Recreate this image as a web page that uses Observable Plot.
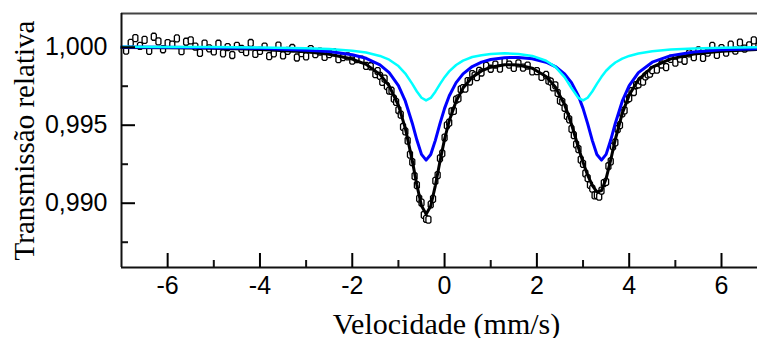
<!DOCTYPE html>
<html><head><meta charset="utf-8">
<script src="https://cdn.jsdelivr.net/npm/d3@7"></script>
<script src="https://cdn.jsdelivr.net/npm/@observablehq/plot@0.6"></script>
<style>html,body{margin:0;padding:0;background:#fff;overflow:hidden}</style>
</head><body><div id="chart"></div>
<script>
// Fitted curves (velocity mm/s, relative transmission)
const fitVel = [-7,-6,-5,-4,-3,-2.5,-2,-1.7,-1.4,-1.2,-1.0,-0.85,-0.7,-0.6,-0.5,-0.4,-0.3,-0.2,-0.1,0,0.1,0.25,0.4,0.6,0.8,1.0,1.3,1.6,1.9,2.2,2.4,2.6,2.75,2.9,3.0,3.1,3.2,3.3,3.4,3.5,3.6,3.7,3.85,4.0,4.2,4.5,4.9,5.4,6.0,6.8];
const fitSite2 = [1.00003,1.00002,1.00001,0.99998,0.99993,0.99988,0.99977,0.99966,0.99944,0.99920,0.99879,0.99831,0.99765,0.99716,0.99676,0.99659,0.99675,0.99715,0.99763,0.99808,0.99845,0.99886,0.99914,0.99937,0.99949,0.99957,0.99961,0.99957,0.99944,0.99913,0.99874,0.99808,0.99738,0.99675,0.99659,0.99676,0.99716,0.99765,0.99810,0.99849,0.99878,0.99902,0.99927,0.99944,0.99960,0.99974,0.99985,0.99991,0.99996,0.99999];
const fitSite1 = [1.00001,0.99999,0.99997,0.99993,0.99981,0.99972,0.99952,0.99929,0.99887,0.99837,0.99754,0.99654,0.99513,0.99405,0.99313,0.99276,0.99312,0.99403,0.99510,0.99608,0.99687,0.99773,0.99829,0.99876,0.99904,0.99921,0.99933,0.99934,0.99926,0.99904,0.99876,0.99829,0.99773,0.99687,0.99608,0.99510,0.99403,0.99312,0.99276,0.99313,0.99405,0.99513,0.99654,0.99754,0.99837,0.99904,0.99946,0.99969,0.99983,0.99991];
const fitTotal = [0.99998,0.99996,0.99993,0.99986,0.99971,0.99955,0.99924,0.99890,0.99826,0.99752,0.99627,0.99480,0.99273,0.99116,0.98984,0.98930,0.98982,0.99113,0.99268,0.99411,0.99527,0.99654,0.99738,0.99808,0.99848,0.99872,0.99888,0.99886,0.99865,0.99812,0.99745,0.99632,0.99506,0.99357,0.99262,0.99180,0.99114,0.99072,0.99081,0.99157,0.99278,0.99410,0.99576,0.99693,0.99792,0.99873,0.99925,0.99956,0.99974,0.99985];

// Measured spectrum
const vel = [-6.9,-6.8,-6.7,-6.6,-6.5,-6.4,-6.3,-6.2,-6.1,-6.0,-5.9,-5.8,-5.7,-5.6,-5.5,-5.4,-5.3,-5.2,-5.1,-5.0,-4.9,-4.8,-4.7,-4.6,-4.5,-4.4,-4.3,-4.2,-4.1,-4.0,-3.9,-3.8,-3.7,-3.6,-3.5,-3.4,-3.3,-3.2,-3.1,-3.0,-2.9,-2.8,-2.7,-2.6,-2.5,-2.4,-2.3,-2.2,-2.1,-2.0,-1.9,-1.8,-1.7,-1.6,
-1.5,-1.45,-1.4,-1.35,-1.3,-1.25,-1.2,-1.15,-1.1,-1.05,-1.0,-0.95,-0.9,-0.85,-0.8,-0.75,-0.7,-0.65,-0.6,-0.55,-0.5,-0.45,-0.4,-0.35,-0.3,-0.25,-0.2,-0.15,-0.1,-0.05,0,0.05,0.1,0.15,0.2,0.25,0.3,0.35,0.4,0.45,0.5,0.55,0.6,0.65,0.7,0.75,0.8,
0.9,1.0,1.1,1.2,1.3,1.4,1.5,1.6,1.7,1.8,1.9,2.0,2.1,
2.2,2.25,2.3,2.35,2.4,2.45,2.5,2.55,2.6,2.65,2.7,2.75,2.8,2.85,2.9,2.95,3.0,3.05,3.1,3.15,3.2,3.25,3.3,3.35,3.4,3.45,3.5,3.55,3.6,3.65,3.7,3.75,3.8,3.85,3.9,3.95,4.0,4.05,4.1,4.15,4.2,4.25,4.3,4.35,4.4,4.45,4.5,
4.6,4.7,4.8,4.9,5.0,5.1,5.2,5.3,5.4,5.5,5.6,5.7,5.8,5.9,6.0,6.1,6.2,6.3,6.4,6.5,6.6,6.7,6.8];
const trans = [0.99978,1.00028,1.00058,1.00008,1.00047,0.99977,1.00067,1.00037,0.99987,1.00026,1.00016,1.00056,0.99975,1.00035,1.00044,1.00004,0.99964,1.00023,0.99993,0.99973,1.00022,0.99961,1.00001,0.99950,1.00009,0.99989,0.99968,1.00027,0.99957,0.99976,1.00004,0.99943,0.99961,1.00010,0.99948,0.99977,0.99995,0.99934,0.99962,0.99941,0.99988,0.99955,0.99971,0.99938,0.99955,0.99969,0.99923,0.99937,0.99941,0.99914,0.99923,0.99921,0.99880,0.99878,
0.99827,0.99847,0.99816,0.99778,0.99799,0.99750,0.99722,0.99721,0.99670,0.99649,0.99597,0.99568,0.99489,0.99460,0.99401,0.99312,0.99263,0.99174,0.99116,0.99030,0.99004,0.98925,0.98900,0.98895,0.98992,0.99028,0.99143,0.99180,0.99288,0.99319,0.99421,0.99499,0.99517,0.99589,0.99592,0.99664,0.99672,0.99730,0.99738,0.99735,0.99783,0.99780,0.99828,0.99818,0.99808,0.99848,0.99838,
0.99880,0.99862,0.99888,0.99863,0.99908,0.99888,0.99867,0.99896,0.99869,0.99882,0.99845,0.99847,0.99810,
0.99822,0.99786,0.99779,0.99742,0.99755,0.99707,0.99658,0.99650,0.99612,0.99560,0.99538,0.99476,0.99436,0.99377,0.99347,0.99279,0.99252,0.99191,0.99161,0.99117,0.99094,0.99050,0.99052,0.99042,0.99081,0.99129,0.99137,0.99238,0.99268,0.99364,0.99390,0.99475,0.99500,0.99576,0.99595,0.99664,0.99673,0.99718,0.99713,0.99757,0.99762,0.99786,0.99779,0.99813,0.99826,0.99830,0.99853,
0.99856,0.99889,0.99872,0.99925,0.99901,0.99927,0.99913,0.99960,0.99936,0.99979,0.99932,0.99965,1.00008,0.99951,0.99994,0.99965,1.00016,0.99978,1.00029,0.99991,1.00012,1.00044,1.00005];

const xMajor = [-6,-4,-2,0,2,4,6];
const xMinor = [-5,-3,-1,1,3,5];
const yMajor = [0.990,0.995,1.000];
const yMinor = [0.9875,0.9925,0.9975];
const xDomain = [-7, 6.78];
const yDomain = [0.98588, 1.00216];
const xTitle = "Velocidade (mm/s)";
const yTitle = "Transmissão relativa";

const fit = fitVel.map((v,i)=>({v, total: fitTotal[i], s1: fitSite1[i], s2: fitSite2[i]}));
const pts = vel.map((v,i)=>({v, t: trans[i]})).filter(d => d.t !== undefined);

const pill = {draw(ctx){ ctx.moveTo(-1.3,-3.5); ctx.lineTo(1.3,-3.5); ctx.lineTo(2.5,-2.3); ctx.lineTo(2.5,2.3); ctx.lineTo(1.3,3.5); ctx.lineTo(-1.3,3.5); ctx.lineTo(-2.5,2.3); ctx.lineTo(-2.5,-2.3); ctx.closePath(); }};

const sans = "'Liberation Sans', Arial, sans-serif";
const serif = "'Liberation Serif', 'Times New Roman', serif";

const chart = Plot.plot({
  width: 757, height: 338,
  marginLeft: 121, marginRight: 0, marginTop: 13, marginBottom: 71,
  style: {fontFamily: sans, fontSize: "25px", color: "#000", background: "#fff"},
  x: {domain: xDomain},
  y: {domain: yDomain},
  marks: [
    Plot.dot(pts, {x: "v", y: "t", symbol: pill, r: 3, fill: "white", stroke: "black", strokeWidth: 1.3}),
    Plot.line(fit, {x: "v", y: "total", stroke: "#000", strokeWidth: 3}),
    Plot.line(fit, {x: "v", y: "s1", stroke: "#0000ff", strokeWidth: 3}),
    Plot.line(fit, {x: "v", y: "s2", stroke: "#00ffff", strokeWidth: 2.5}),
    Plot.ruleY([yDomain[1]], {stroke: "#444", strokeWidth: 2}),
    Plot.ruleY([yDomain[0]], {stroke: "#111", strokeWidth: 2}),
    Plot.ruleX([xDomain[0]], {stroke: "#111", strokeWidth: 2}),
    Plot.axisX(xMajor, {tickSize: -14, tickPadding: 23, strokeWidth: 2, tickFormat: d => String(d), label: null, fontSize: 25}),
    Plot.ruleX(xMinor, {x: d => d, y1: yDomain[0], y2: yDomain[0], insetTop: -7, stroke: "#111", strokeWidth: 2}),
    Plot.axisY(yMajor, {tickSize: -14, tickPadding: 28, strokeWidth: 2, tickFormat: d => d3.format(".3f")(d).replace(".", ","), label: null, fontSize: 25}),
    Plot.ruleY(yMinor, {y: d => d, x1: xDomain[0], x2: xDomain[0], insetRight: -7, stroke: "#111", strokeWidth: 2}),
    Plot.text([xTitle], {text: d => d, frameAnchor: "bottom", lineAnchor: "bottom", textAnchor: "middle", dx: 7, dy: 66, fontFamily: serif, fontSize: 30, fill: "#000"}),
    Plot.text([yTitle], {text: d => d, frameAnchor: "left", rotate: -90, lineAnchor: "bottom", textAnchor: "middle", dx: -88, fontFamily: serif, fontSize: 29, fill: "#000"})
  ]
});
document.getElementById("chart").appendChild(chart);
</script>
</body></html>
